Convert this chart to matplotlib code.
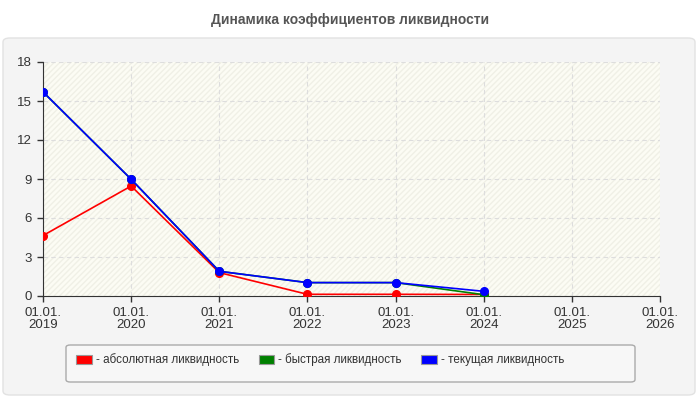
import matplotlib
matplotlib.use("Agg")
import matplotlib.pyplot as plt
from matplotlib.patches import FancyBboxPatch, Patch, Rectangle

plt.rcParams['font.family'] = ['Liberation Sans', 'DejaVu Sans']

title = "Динамика коэффициентов ликвидности"
years = [2019, 2020, 2021, 2022, 2023, 2024]
tick_years = [2019, 2020, 2021, 2022, 2023, 2024, 2025, 2026]
tick_labels = ["01.01.\n%d" % y for y in tick_years]
absolute = [4.65, 8.46, 1.8, 0.13, 0.13, 0.12]
quick = [15.7, 8.98, 1.9, 1.03, 1.03, 0.1]
current = [15.7, 8.98, 1.9, 1.03, 1.03, 0.36]
series_names = ["- абсолютная ликвидность", "- быстрая ликвидность", "- текущая ликвидность"]
colors = ["#ff0000", "#008000", "#0000ff"]
yticks = [0, 3, 6, 9, 12, 15, 18]

fig = plt.figure(figsize=(7, 4), dpi=100)
fig.patch.set_facecolor("white")

# panel background
panel = FancyBboxPatch((3 / 700, 5 / 400), 692 / 700, 357 / 400,
                       boxstyle="round,pad=0,rounding_size=0.01",
                       transform=fig.transFigure, facecolor="#f4f4f4",
                       edgecolor="#e2e2e2", linewidth=1, zorder=-10)
fig.patches.append(panel)

# legend box
lbox = FancyBboxPatch((66 / 700, 1 - 382 / 400), 569 / 700, 37 / 400,
                      boxstyle="round,pad=0,rounding_size=0.006",
                      transform=fig.transFigure, facecolor="#f7f7f7",
                      edgecolor="#aaaaaa", linewidth=1, zorder=-5)
fig.patches.append(lbox)

fig.text(0.5, 1 - 20 / 400, title, ha="center", va="center",
         fontsize=10, fontweight="bold", color="#555555")

ax = fig.add_axes([43 / 700, 1 - 296 / 400, 617 / 700, 234 / 400])
ax.set_zorder(1)
ax.set_facecolor("#fcfcf4")
ax.add_patch(Rectangle((0, 0), 1, 1, transform=ax.transAxes, facecolor="none",
                       edgecolor="#f0f0e6", hatch="//////", linewidth=0, zorder=0))

ax.plot(years, absolute, color=colors[0], lw=1.2, marker="o", ms=5.5, zorder=3)
ax.plot(years, quick, color=colors[1], lw=1.2, marker="o", ms=5.5, zorder=3)
ax.plot(years, current, color=colors[2], lw=1.2, marker="o", ms=5.5, zorder=4)

ax.set_xlim(tick_years[0], tick_years[-1])
ax.set_ylim(0, 18)
ax.set_xticks(tick_years)
ax.set_xticklabels(tick_labels, linespacing=0.95)
ax.set_yticks(yticks)
ax.tick_params(axis="both", labelsize=9.5, colors="#333333", length=4, width=1)
ax.tick_params(axis="x", pad=4)
ax.tick_params(axis="y", pad=4)
for s in ["top", "right"]:
    ax.spines[s].set_visible(False)
for s in ["left", "bottom"]:
    ax.spines[s].set_color("#333333")
ax.grid(True, color="#dddddd", linestyle=(0, (4, 3)), linewidth=0.8)
ax.set_axisbelow(True)

handles = [Patch(facecolor=c, edgecolor="#999999", linewidth=0.8) for c in colors]
leg = fig.legend(handles, series_names, loc="center left",
                 bbox_to_anchor=(67 / 700, 1 - 360 / 400),
                 ncol=3, frameon=False, fontsize=8.4, handlelength=1.35,
                 handleheight=0.75, handletextpad=0.35, columnspacing=1.65,
                 borderpad=0.3, labelcolor="#333333")

fig.savefig("out.png", dpi=100)
